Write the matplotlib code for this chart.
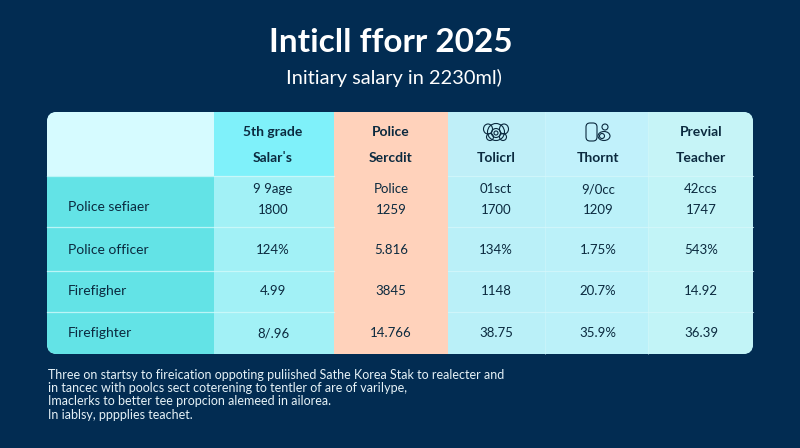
# table picture, drawn on one full-figure axes in pixel units
import matplotlib
matplotlib.use('Agg')
import matplotlib.pyplot as plt
from matplotlib.patches import FancyBboxPatch, Rectangle, Circle, Ellipse

title = 'Inticll fforr 2025'
subtitle = 'Initiary salary in 2230ml)'

header_top = ['', '5th grade', 'Police', '', '', 'Previal']
header_bottom = ['', 'Salarˈs', 'Sercdit', 'Tolicrl', 'Thornt', 'Teacher']
row_names = ['Police sefiaer', 'Police officer', 'Firefigher', 'Firefighter']
first_row_top = ['9 9age', 'Police', '01sct', '9/0cc', '42ccs']
first_row = ['1800', '1259', '1700', '1209', '1747']
row2 = ['124%', '5.816', '134%', '1.75%', '543%']
row3 = ['4.99', '3845', '1148', '20.7%', '14.92']
row4 = ['8/.96', '14.766', '38.75', '35.9%', '36.39']
footnote = ['Three on startsy to fireication oppoting puliished Sathe Korea Stak to realecter and',
            'in tancec with poolcs sect coterening to tentler of are of variIype,',
            'Imaclerks to better tee propcion alemeed in ailorea.',
            'In iablsy, pppplies teachet.']

col_edges = [47, 214, 334, 448, 545, 648, 753]
row_edges = [112, 176, 227, 271, 312, 354]
head_colors = ['#D6FBFF', '#7FF1FA', '#FFD2BB', '#BFEFF8', '#C1F1FB', '#C6F4F7']
body_colors = ['#63E3E6', '#A2F1F6', '#FFD2BB', '#BAF0F8', '#BBF1F9', '#C2F4F7']
bg = '#022C52'
ink = '#0B2A3F'

plt.rcParams['font.family'] = ['Lato', 'DejaVu Sans']
fig = plt.figure(figsize=(8, 4.48), dpi=100, facecolor=bg)
ax = fig.add_axes([0, 0, 1, 1])
ax.set_xlim(0, 800)
ax.set_ylim(448, 0)
ax.axis('off')

ax.text(391, 43, title, color='white', fontsize=24, fontweight='bold', ha='center', va='center')
ax.text(394, 78, subtitle, color='white', fontsize=14.4, ha='center', va='center')

# rounded outline of the table, cells get clipped to it
card = FancyBboxPatch((col_edges[0], row_edges[0]), col_edges[-1] - col_edges[0], row_edges[-1] - row_edges[0],
                      boxstyle='round,pad=0,rounding_size=10', fc='#BBF1F9', ec='none')
ax.add_patch(card)

for c in range(6):
    r = Rectangle((col_edges[c], row_edges[0]), col_edges[c + 1] - col_edges[c], row_edges[1] - row_edges[0],
                  fc=head_colors[c], ec='none')
    ax.add_patch(r)
    r.set_clip_path(card)
    r = Rectangle((col_edges[c], row_edges[1]), col_edges[c + 1] - col_edges[c], row_edges[-1] - row_edges[1],
                  fc=body_colors[c], ec='none')
    ax.add_patch(r)
    r.set_clip_path(card)

# thin light lines between the rows
for y in row_edges[1:-1]:
    ax.plot([col_edges[0], col_edges[2]], [y, y], color='#D2FAFB', lw=0.9, alpha=0.8)
    ax.plot([col_edges[3], col_edges[-1]], [y, y], color='#D8F8FB', lw=0.8, alpha=0.7)
for x in col_edges[4:-1]:
    ax.plot([x, x], [row_edges[0], row_edges[-1]], color='#D8F8FB', lw=0.6, alpha=0.5)

centers = [130, 273, 391, 496, 598, 701]

for c in range(6):
    ax.text(centers[c], 132, header_top[c], color=ink, fontsize=10, fontweight='bold', ha='center', va='center')
    ax.text(centers[c], 158, header_bottom[c], color=ink, fontsize=10, fontweight='bold', ha='center', va='center')

# header icons
for dx, dy, w, h in [(-8, -3, 9, 10), (8, -3, 9, 10), (0, 0, 17, 17), (0, 1, 9, 9), (0, 1, 4, 4), (-6, 5, 7, 7), (7, 5, 7, 7)]:
    ax.add_patch(Ellipse((496 + dx, 132 + dy), w, h, fc='none', ec=ink, lw=0.8))
ax.add_patch(FancyBboxPatch((586, 123), 11, 18, boxstyle='round,pad=0,rounding_size=4', fc='none', ec=ink, lw=0.8))
ax.add_patch(Circle((605, 127), 3, fc='none', ec=ink, lw=0.8))
ax.add_patch(Ellipse((604, 136), 12, 9, fc='none', ec=ink, lw=0.8))
ax.add_patch(Circle((602, 136), 2.5, fc='none', ec=ink, lw=0.8))

rows = [first_row, row2, row3, row4]
row_y = [207, 250, 291, 333]
for i in range(4):
    ax.text(68, row_y[i], row_names[i], color=ink, fontsize=10, ha='left', va='center')
    for c in range(5):
        ax.text(centers[c + 1], (210 if i == 0 else row_y[i]), rows[i][c], color=ink, fontsize=9.5,
                ha='center', va='center')
for c in range(5):
    ax.text(centers[c + 1], 189, first_row_top[c], color=ink, fontsize=9.5, ha='center', va='center')

foot_y = [375, 388, 401, 415]
for y, line in zip(foot_y, footnote):
    ax.text(48, y, line, color='#E6F2F7', fontsize=9.0, ha='left', va='center')

fig.savefig('out.png', dpi=100, facecolor=bg)
